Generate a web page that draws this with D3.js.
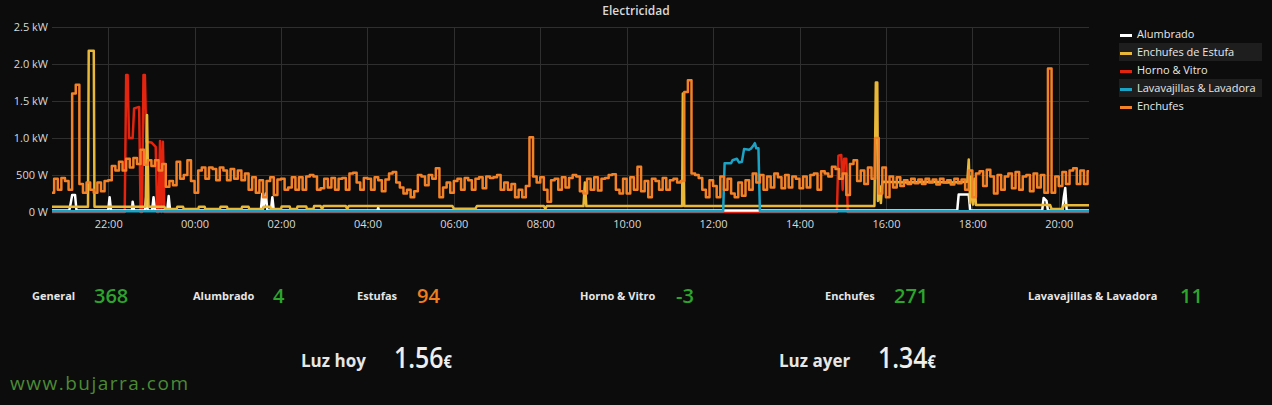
<!DOCTYPE html>
<html><head><meta charset="utf-8">
<script src="https://cdn.jsdelivr.net/npm/d3@7"></script>
<style>
html,body{margin:0;padding:0;background:#0c0c0c;}
svg{display:block;}
text{font-family:"Open Sans",sans-serif;}
</style></head><body>
<svg id="chart" width="1272" height="405"></svg>
<script>
// ---------------- DATA ----------------
const seriesNames = ["Alumbrado","Enchufes de Estufa","Horno & Vitro","Lavavajillas & Lavadora","Enchufes"];
const yTickValues = [0,500,1000,1500,2000,2500];
const yTickLabels = ["0 W","500 W","1.0 kW","1.5 kW","2.0 kW","2.5 kW"];
const xTickLabels = ["22:00","00:00","02:00","04:00","06:00","08:00","10:00","12:00","14:00","16:00","18:00","20:00"];
const rangeStart = "20:42";

// Enchufes: one reading every 5 minutes starting 20:40
const enchufesStart = "20:40";
const enchufes = [
260,450,300,460,420,300,1600,1720,380,260,400,300,260,400,280,420,
430,620,560,680,560,720,600,730,650,840,640,700,
620,700,560,650,340,420,360,680,450,500,700,420,
260,560,600,450,600,580,430,600,560,430,580,450,
560,430,520,300,470,260,430,200,420,470,230,440,
450,300,330,470,300,470,300,480,
500,480,300,320,450,330,460,300,450,460,300,520,530,400,300,460,
450,300,470,430,280,440,520,540,400,330,250,300,
200,280,500,480,360,500,450,590,200,330,400,260,
420,450,300,460,430,300,450,470,320,480,460,470,
500,300,400,300,380,200,300,200,350,1010,480,400,
470,300,140,430,450,300,470,330,460,
500,480,280,250,450,300,470,290,450,460,500,510,300,250,450,
250,470,300,610,280,420,200,450,420,300,460,300,
430,450,400,420,1620,1780,520,500,460,300,200,430,
350,200,480,300,450,250,200,400,220,430,300,520,
400,500,300,480,330,520,470,320,500,330,480,450,
320,480,330,500,520,300,550,520,480,610,
580,450,520,230,650,700,420,560,380,600,450,1000,250,600,
200,480,330,470,350,430,380,450,390,440,380,450,
400,440,370,450,400,430,370,450,390,440,300,560,
200,520,550,350,570,480,250,500,300,480,520,320,
540,300,480,500,280,520,330,500,260,1940,260,480,
350,540,380,560,590,380,560,380,550,500
];

const alumbrado = [
["20:42",20],["21:06",20],["21:08",120],["21:10",230],["21:14",230],["21:16",20],
["22:00",20],["22:02",200],["22:04",20],["22:33",20],["22:34",140],["22:36",20],
["22:51",20],["22:53",215],["22:55",20],["23:01",20],["23:03",200],["23:05",20],
["23:22",20],["23:24",215],["23:26",20],["01:32",20],["01:34",245],["01:36",80],
["01:39",250],["01:41",20],["01:46",20],["01:48",200],["01:50",20],["04:14",20],
["04:15",60],["04:16",20],["17:39",20],["17:41",235],["17:55",235],["17:57",20],
["19:37",20],["19:39",190],["19:43",150],["19:45",20],["20:05",20],["20:07",200],
["20:09",325],["20:11",20],["20:45",20]
];

const estufa = [
["20:42",70],["21:32",70],["21:33",2180],["21:40",2180],["21:41",70],["22:52",70],
["22:54",1310],["22:56",70],["23:18",70],["23:20",40],["23:35",40],["23:36",70],
["23:44",70],["23:45",40],["00:05",40],["00:06",70],["00:14",70],["00:15",40],
["00:35",40],["00:36",70],["00:45",70],["00:46",40],["01:05",40],["01:06",70],
["01:15",70],["01:16",40],["01:35",40],["01:36",70],["01:45",70],["01:46",40],
["02:00",40],["02:01",75],["02:12",75],["02:13",40],["02:22",40],["02:23",75],
["02:35",75],["02:36",40],["02:45",40],["02:46",80],["02:55",80],["02:57",40],
["02:59",80],["03:30",80],["03:32",40],["03:34",80],["05:58",80],["06:00",45],
["06:30",45],["06:32",80],["08:05",80],["08:07",45],["08:09",80],["09:00",80],
["09:02",400],["09:04",80],["11:17",80],["11:18",1600],["11:20",80],["15:44",80],
["15:46",1750],["15:48",1750],["15:49",150],["15:51",350],["15:53",120],["15:55",410],
["16:30",400],["17:00",410],["17:30",400],["17:53",410],["17:55",710],["17:57",120],
["17:59",480],["18:01",100],["18:03",450],["18:05",95],["19:48",95],["19:50",40],
["20:05",40],["20:07",90],["20:45",90]
];

const horno = [
["20:42",0],["22:23",0],["22:25",1850],["22:27",1850],["22:29",1000],["22:34",1000],
["22:36",1400],["22:43",1420],["22:45",0],["22:47",0],["22:49",1850],["22:51",1850],
["22:53",950],["23:00",940],["23:06",880],["23:08",0],["23:10",0],["23:12",960],
["23:14",0],["23:16",950],["23:18",0],["14:52",0],["14:54",760],["14:58",770],
["15:00",300],["15:02",720],["15:05",720],["15:07",0],["20:45",0]
];

const lavavajillas = [
["20:42",10],["12:14",10],["12:16",660],["12:25",660],["12:27",700],["12:33",720],
["12:36",670],["12:40",680],["12:43",850],["12:50",840],["12:53",860],["12:56",900],
["12:58",930],["13:00",860],["13:03",860],["13:05",10],["20:45",10]
];

const statLabels = ["General","Alumbrado","Estufas","Horno & Vitro","Enchufes","Lavavajillas & Lavadora"];
const statValues = ["368","4","94","-3","271","11"];
const luzLabels = ["Luz hoy","Luz ayer"];
const luzValues = ["1.56","1.34"];
const currency = "€";
const titleText = "Electricidad";
const watermark = "www.bujarra.com";

// ---------------- STYLE / LAYOUT ----------------
const seriesColors = ["#ffffff","#eab839","#e3240f","#1ba3c6","#f28128"];
const drawOrder = [2,0,1,3,4];
const statLayout = [[32,94],[193,273],[357,417],[580,676],[825,894],[1028,1180]];
const statColors = ["#2ca52c","#2ca52c","#ef7d1e","#2ca52c","#2ca52c","#2ca52c"];
const luzLayout = [[301,394],[779,878]];

const W = 1272, H = 405;
const M = {left:52, right:1089, top:27, bottom:212};

function toDates(times){
  let day = 0, prev = null;
  return times.map(s=>{
    const [h,m] = s.split(':').map(Number);
    const mins = h*60+m;
    if(prev!==null && mins<prev) day++;
    prev = mins;
    return new Date(2017,0,1+day,h,m);
  });
}
function pairs(list){
  const ds = toDates([rangeStart].concat(list.map(d=>d[0]))).slice(1);
  return list.map((d,i)=>({t:ds[i], v:d[1]}));
}

const [sh,sm] = rangeStart.split(':').map(Number);
const t0 = new Date(2017,0,1,sh,sm);
const t1 = new Date(2017,0,2,sh,sm);
const x = d3.scaleTime().domain([t0,t1]).range([M.left,M.right]);
const y = d3.scaleLinear().domain([0,2500]).range([M.bottom,M.top]);

const svg = d3.select("#chart");
svg.append("rect").attr("width",W).attr("height",H).attr("fill","#0c0c0c");

// title
svg.append("text").attr("x",636).attr("y",15).attr("text-anchor","middle")
  .attr("fill","#d8d9da").attr("font-size",12).attr("font-weight",600).text(titleText);

// grid
const xTicks = toDates([rangeStart].concat(xTickLabels)).slice(1);
const g = svg.append("g");
g.selectAll("line.hg").data(yTickValues.slice(1)).join("line")
  .attr("x1",M.left).attr("x2",M.right).attr("y1",d=>y(d)+0.5).attr("y2",d=>y(d)+0.5)
  .attr("stroke","#2f2f2f").attr("stroke-width",1);
g.selectAll("line.vg").data(xTicks).join("line")
  .attr("x1",d=>Math.round(x(d))+0.5).attr("x2",d=>Math.round(x(d))+0.5)
  .attr("y1",M.top).attr("y2",M.bottom)
  .attr("stroke","#2f2f2f").attr("stroke-width",1);

// axes
const yAxis = d3.axisLeft(y).tickValues(yTickValues)
  .tickFormat((d,i)=>yTickLabels[i]).tickSize(0).tickPadding(4);
const ya = svg.append("g").attr("transform",`translate(${M.left},0)`).call(yAxis);
ya.select(".domain").remove();
ya.selectAll("text").attr("fill","#d8d9da").attr("font-size",11).attr("font-family","Open Sans");

const xAxis = d3.axisBottom(x).tickValues(xTicks)
  .tickFormat((d,i)=>xTickLabels[i]).tickSize(0).tickPadding(8);
const xa = svg.append("g").attr("transform",`translate(0,${M.bottom})`).call(xAxis);
xa.select(".domain").remove();
xa.selectAll("text").attr("fill","#d8d9da").attr("font-size",11).attr("font-family","Open Sans");

// clip
svg.append("clipPath").attr("id","clip").append("rect")
  .attr("x",M.left).attr("y",0).attr("width",M.right-M.left).attr("height",M.bottom+3);

const [eh,em] = enchufesStart.split(':').map(Number);
const eStart = new Date(2017,0,1,eh,em);
const enchufesData = enchufes.map((v,i)=>({t:d3.timeMinute.offset(eStart,5*i), v}));

const allSeries = [pairs(alumbrado), pairs(estufa), pairs(horno), pairs(lavavajillas), enchufesData];
const curves = [d3.curveLinear, d3.curveLinear, d3.curveLinear, d3.curveLinear, d3.curveStepAfter];
const plot = svg.append("g").attr("clip-path","url(#clip)");
drawOrder.forEach(i=>{
  const line = d3.line().x(d=>x(d.t)).y(d=>y(d.v)).curve(curves[i]);
  plot.append("path").datum(allSeries[i]).attr("d",line).attr("fill","none")
    .attr("stroke",seriesColors[i]).attr("stroke-width",2.5)
    .attr("stroke-linejoin","round");
});

// legend
const lg = svg.append("g");
seriesNames.forEach((n,i)=>{
  const cy = 34 + i*18;
  if(i===1 || i===3){
    lg.append("rect").attr("x",1119).attr("y",cy-9).attr("width",143).attr("height",18).attr("fill","#1f1e1e");
  }
  lg.append("rect").attr("x",1120).attr("y",cy).attr("width",12).attr("height",3).attr("fill",seriesColors[i]);
  lg.append("text").attr("x",1137).attr("y",cy+4).attr("fill","#e8e8e8").attr("font-size",11).text(n);
});

// stats row
statLabels.forEach((l,i)=>{
  svg.append("text").attr("x",statLayout[i][0]).attr("y",300).attr("fill","#e6e6e6")
    .attr("font-size",11).attr("font-weight",700).text(l);
  svg.append("text").attr("x",statLayout[i][1]).attr("y",303).attr("fill",statColors[i])
    .attr("font-size",20).attr("font-weight",600).text(statValues[i]);
});

// luz
luzLabels.forEach((l,i)=>{
  svg.append("text").attr("x",luzLayout[i][0]).attr("y",367).attr("fill","#e6e6e6")
    .attr("font-size",17).attr("font-weight",700).text(l);
  const t = svg.append("text")
    .attr("transform",`translate(${luzLayout[i][1]},368) scale(0.86,1)`)
    .attr("fill","#eeeeee").attr("font-weight",600);
  t.append("tspan").attr("font-size",29).text(luzValues[i]);
  t.append("tspan").attr("font-size",17).attr("font-weight",700).text(currency);
});

// watermark
svg.append("text").attr("x",10).attr("y",390).attr("fill","#4b8a36")
  .attr("font-family","DejaVu Sans").attr("font-size",19)
  .attr("textLength",178).attr("lengthAdjust","spacing").text(watermark);
</script>
</body></html>
